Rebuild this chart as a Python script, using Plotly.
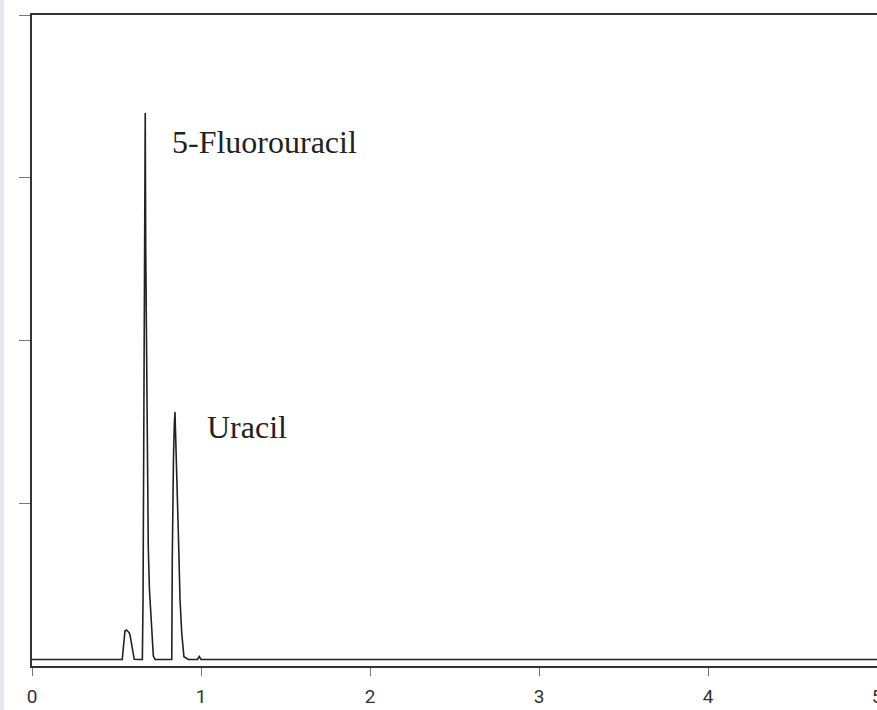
import plotly.graph_objects as go

# Retention time (min) and detector signal (arbitrary units)
time_min = [0.000, 0.300, 0.534, 0.550, 0.559, 0.568, 0.576, 0.580, 0.590, 0.599, 0.605,
            0.630, 0.653, 0.657, 0.660, 0.664, 0.669, 0.670, 0.673, 0.678, 0.683, 0.688,
            0.695, 0.702, 0.710, 0.718, 0.728, 0.780, 0.827, 0.830, 0.833, 0.837, 0.842,
            0.846, 0.849, 0.856, 0.866, 0.876, 0.886, 0.899, 0.915, 0.925, 0.979, 0.990,
            1.000, 2.000, 3.000, 4.000, 5.000]
signal = [0.040, 0.040, 0.040, 0.215, 0.221, 0.212, 0.203, 0.190, 0.129, 0.068, 0.041,
          0.040, 0.040, 0.406, 1.327, 2.249, 3.398, 3.398, 2.556, 1.757, 1.143, 0.731,
          0.467, 0.326, 0.160, 0.061, 0.041, 0.040, 0.040, 0.651, 1.020, 1.266, 1.481,
          1.561, 1.450, 1.223, 0.817, 0.406, 0.203, 0.057, 0.043, 0.040, 0.040, 0.058,
          0.040, 0.040, 0.040, 0.040, 0.040]

x_tick_vals = [0, 1, 2, 3, 4, 5]
x_tick_text = ["0", "1", "2", "3", "4", "5"]
y_tick_vals = [1, 2, 3, 4]

peak_labels = ["5-Fluorouracil", "Uracil"]
label_x = [0.815, 1.023]
label_y = [3.220, 1.470]

fig = go.Figure()
fig.add_trace(go.Scatter(x=time_min, y=signal, mode="lines",
                         line=dict(color="#222222", width=1.6), showlegend=False,
                         hoverinfo="skip"))

for txt, lx, ly in zip(peak_labels, label_x, label_y):
    fig.add_annotation(x=lx, y=ly, text=txt, showarrow=False, xanchor="left",
                       yanchor="middle",
                       font=dict(family="Liberation Serif", size=32, color="#222222"))

# light grey strip at the left edge of the image
fig.add_shape(type="rect", xref="paper", yref="paper",
              x0=-32/845, x1=-28/845, y0=-1, y1=2,
              fillcolor="#e6e8eb", line=dict(width=0), layer="below")

fig.update_layout(
    width=877, height=710,
    margin=dict(l=32, r=0, t=15, b=44, autoexpand=False),
    paper_bgcolor="white", plot_bgcolor="white",
    xaxis=dict(range=[0, 5], tickvals=x_tick_vals, ticktext=x_tick_text,
               automargin=False,
               showgrid=False, zeroline=False, showline=True, mirror=True,
               linecolor="#333333", linewidth=1.6,
               ticks="outside", ticklen=8, tickwidth=1, tickcolor="#777777",
               ticklabeloverflow="allow", ticklabelstandoff=4,
               tickfont=dict(family="Roboto", size=19, color="#333333")),
    yaxis=dict(range=[0, 4], tickvals=y_tick_vals, showticklabels=False,
               automargin=False,
               showgrid=False, zeroline=False, showline=True, mirror=False,
               linecolor="#333333", linewidth=1.6,
               ticks="outside", ticklen=11, tickwidth=1, tickcolor="#777777"),
)

# remove the default page margin so the 877x710 figure fills the window exactly
fig.write_html("out.html",
               config={"displayModeBar": False},
               post_script="document.body.style.margin='0';"
                           "document.body.style.overflow='hidden';"
                           "document.documentElement.style.overflow='hidden';")
